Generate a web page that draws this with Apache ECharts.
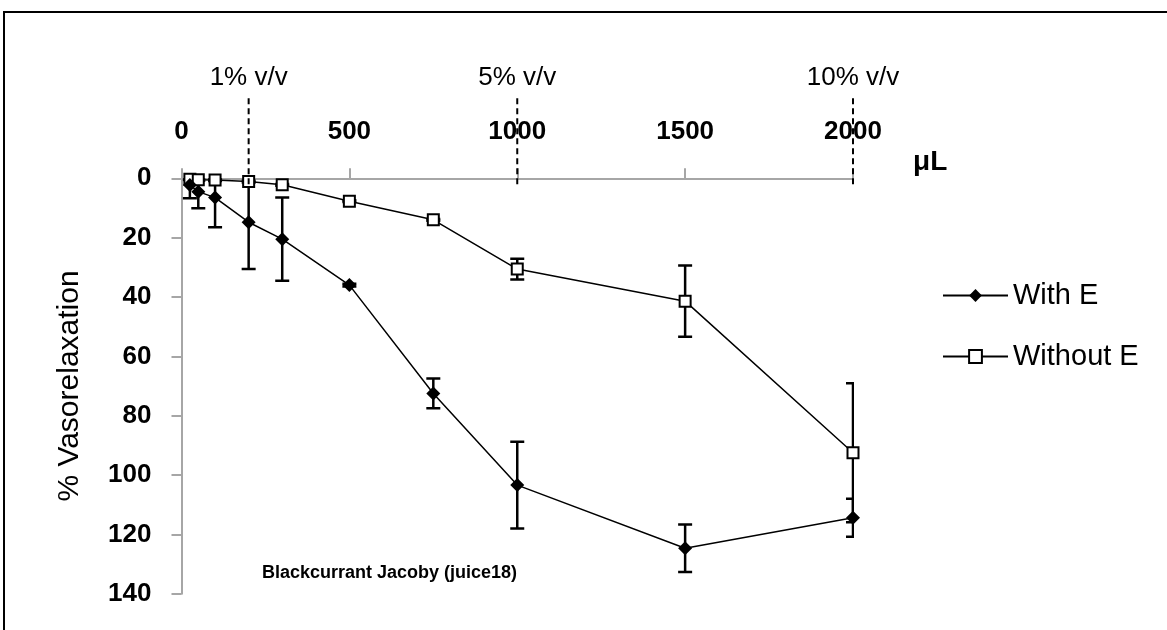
<!DOCTYPE html>
<html>
<head>
<meta charset="utf-8">
<script src="https://cdn.jsdelivr.net/npm/echarts@6/dist/echarts.min.js"></script>
<style>
  html, body { margin: 0; padding: 0; background: #fff; }
  #chart { width: 1167px; height: 630px; }
</style>
</head>
<body>
<div id="chart"></div>
<script>
// doses in µL
var doses = [25, 50, 100, 200, 300, 500, 750, 1000, 1500, 2000];
var withE = [2.3, 4.5, 6.5, 14.8, 20.5, 36, 72.5, 103.4, 124.7, 114.4];
var withEErr = [4.4, 5.6, 10, 15.8, 14, 0.5, 5, 14.6, 8, 6.4];
var withoutE = [0.3, 0.5, 0.6, 1.1, 2.2, 7.7, 14, 30.6, 41.4, 92.5];
var withoutEErr = [0.3, 0.3, 0.3, 0.3, 0.3, 0.3, 0.3, 3.5, 12, 23.4];

// concentration markers
var markDoses = [200, 1000, 2000];
var markLabels = ['1% v/v', '5% v/v', '10% v/v'];

var font = "'Liberation Sans', Arial, sans-serif";

function pairs(xs, ys) {
  return xs.map(function (x, i) { return [x, ys[i]]; });
}
function triples(xs, ys, es) {
  return xs.map(function (x, i) { return [x, ys[i], es[i]]; });
}

function errorBar(params, api) {
  var x = api.value(0), y = api.value(1), e = api.value(2);
  var top = api.coord([x, y - e]);
  var bot = api.coord([x, y + e]);
  var hw = 7;
  var st = { stroke: '#000', lineWidth: 2.5 };
  return {
    type: 'group',
    children: [
      { type: 'line', shape: { x1: top[0], y1: top[1], x2: bot[0], y2: bot[1] }, style: st },
      { type: 'line', shape: { x1: top[0] - hw, y1: top[1], x2: top[0] + hw, y2: top[1] }, style: st },
      { type: 'line', shape: { x1: bot[0] - hw, y1: bot[1], x2: bot[0] + hw, y2: bot[1] }, style: st }
    ]
  };
}

function doseMark(params, api) {
  var x = api.value(0);
  var p0 = api.coord([x, 2]);
  var p1 = api.coord([x, -28]);
  return {
    type: 'group',
    children: [
      { type: 'line', shape: { x1: p0[0], y1: p0[1], x2: p1[0], y2: p1[1] },
        style: { stroke: '#000', lineWidth: 2, lineDash: [6, 4] } },
      { type: 'text', x: p1[0], y: p1[1] - 4,
        style: { text: markLabels[params.dataIndex], fill: '#000', font: '26px ' + font,
                 textAlign: 'center', textVerticalAlign: 'bottom' } }
    ]
  };
}

var chart = echarts.init(document.getElementById('chart'));
chart.setOption({
  animation: false,
  backgroundColor: '#fff',
  textStyle: { fontFamily: font },
  grid: { left: 181.5, top: 178.3, right: 314, bottom: 36.3, containLabel: false },
  title: {
    text: 'Blackcurrant Jacoby (juice18)',
    left: 257, top: 559,
    textStyle: { fontFamily: font, fontSize: 18, fontWeight: 'bold', color: '#000' }
  },
  legend: {
    orient: 'vertical',
    left: 937, top: 276,
    itemWidth: 65, itemHeight: 16, itemGap: 32,
    data: ['With E', 'Without E'],
    textStyle: { fontFamily: font, fontSize: 29, color: '#000' }
  },
  graphic: [
    { type: 'rect', shape: { x: 4, y: 12, width: 1200, height: 700 },
      style: { fill: 'none', stroke: '#000', lineWidth: 2 }, silent: true }
  ],
  xAxis: {
    type: 'value',
    position: 'top',
    min: 0, max: 2000, interval: 500,
    name: 'μL',
    nameLocation: 'end',
    nameGap: 60,
    nameTextStyle: { fontFamily: font, fontSize: 28, fontWeight: 'bold', color: '#000',
                     verticalAlign: 'bottom', padding: [0, 0, 2, 0] },
    axisLine: { lineStyle: { color: '#a6a6a6', width: 2 } },
    axisTick: { show: true, length: 10, lineStyle: { color: '#a6a6a6', width: 2 } },
    axisLabel: { margin: 33, fontSize: 26, fontWeight: 'bold', color: '#000', fontFamily: font,
                 formatter: function (v) { return String(v); } },
    splitLine: { show: false }
  },
  yAxis: {
    type: 'value',
    inverse: true,
    min: 0, max: 140, interval: 20,
    name: '% Vasorelaxation',
    nameLocation: 'middle',
    nameGap: 97,
    nameTextStyle: { fontFamily: font, fontSize: 30, color: '#000' },
    axisLine: { show: true, lineStyle: { color: '#a6a6a6', width: 2 } },
    axisTick: { show: true, length: 10, lineStyle: { color: '#a6a6a6', width: 2 } },
    axisLabel: { margin: 30, fontSize: 26, fontWeight: 'bold', color: '#000', fontFamily: font },
    splitLine: { show: false }
  },
  series: [
    {
      type: 'custom', name: 'errWithout', renderItem: errorBar, clip: true, z: 1,
      data: triples(doses, withoutE, withoutEErr), encode: { x: 0, y: 1 }
    },
    {
      type: 'custom', name: 'errWith', renderItem: errorBar, clip: true, z: 1,
      data: triples(doses, withE, withEErr), encode: { x: 0, y: 1 }
    },
    {
      type: 'custom', name: 'marks', renderItem: doseMark, clip: false, z: 4, silent: true,
      data: markDoses.map(function (d) { return [d, 0]; }), encode: { x: 0, y: 1 }
    },
    {
      name: 'Without E', type: 'line', z: 2,
      data: pairs(doses, withoutE),
      symbol: 'rect', symbolSize: 11,
      lineStyle: { color: '#000', width: 1.5 },
      itemStyle: { color: '#fff', borderColor: '#000', borderWidth: 2 }
    },
    {
      name: 'With E', type: 'line', z: 3,
      data: pairs(doses, withE),
      symbol: 'diamond', symbolSize: 14,
      lineStyle: { color: '#000', width: 1.5 },
      itemStyle: { color: '#000', borderColor: '#000', borderWidth: 0 }
    }
  ]
});
</script>
</body>
</html>
